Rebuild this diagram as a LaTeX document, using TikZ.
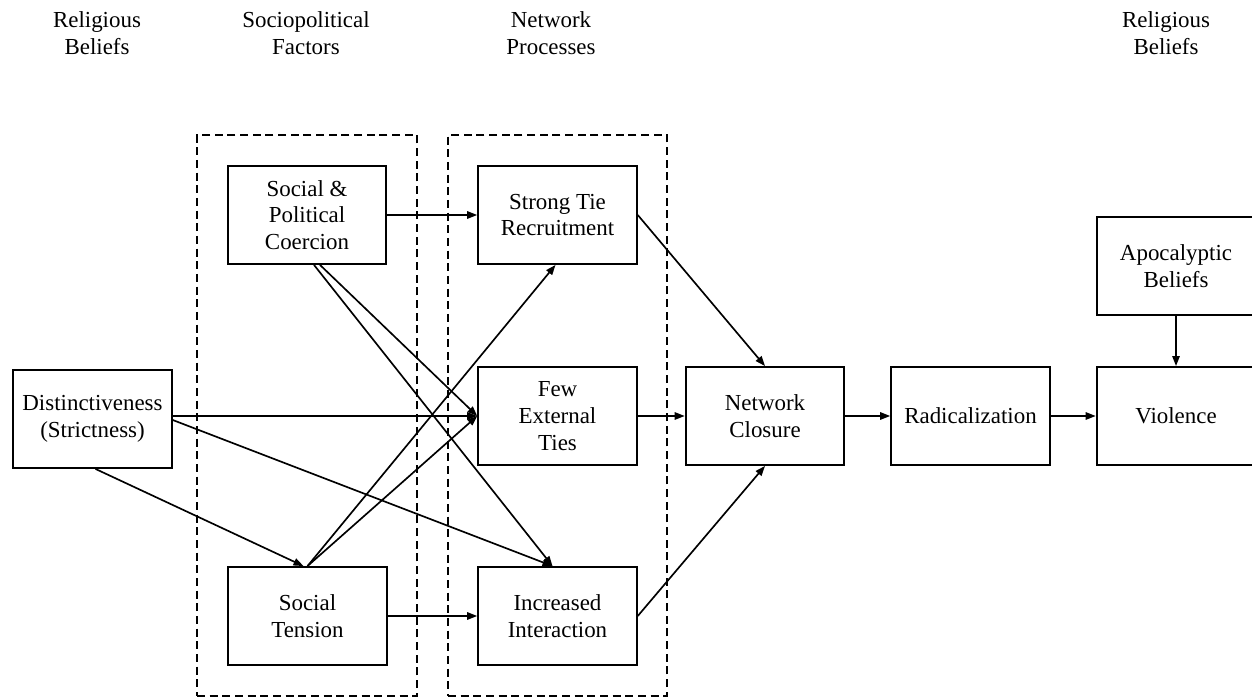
\documentclass[tikz,border=0pt]{standalone}
\usepackage{fontspec}
\setmainfont{Liberation Serif}
\usetikzlibrary{arrows.meta,calc}
\begin{document}
\begin{tikzpicture}[x=0.75pt,y=-0.75pt,
  box/.style={draw, line width=1.4pt, minimum width=119pt, minimum height=73.5pt, align=center, inner sep=0pt, font=\fontsize{17.2}{20}\selectfont},
  hdr/.style={align=center, font=\fontsize{17.2}{20}\selectfont},
  arr/.style={line width=1.25pt, -{Triangle[length=7.5pt,width=5.5pt]}},
  grp/.style={draw, line width=1.3pt, dash pattern=on 6pt off 3.5pt, minimum height=420.75pt, inner sep=0pt},
]
\useasboundingbox (0,0) rectangle (1252,698);
\clip (0,0) rectangle (1252,698);

% headers
\node[hdr] (h1) at (97,33) {Religious\\Beliefs};
\node[hdr] (h2) at (306,33) {Sociopolitical\\Factors};
\node[hdr] (h3) at (551,33) {Network\\Processes};
\node[hdr] (h4) at (1166,33) {Religious\\Beliefs};

% group frames
\node[grp, minimum width=165pt] (g1) at (307,415.5) {};
\node[grp, minimum width=164.25pt] (g2) at (557.5,415.5) {};

% boxes
\node[box] (dist) at (92.5,419) {Distinctiveness\\(Strictness)};
\node[box] (coer) at (307,215) {Social \&\\Political\\Coercion};
\node[box] (tens) at (307.5,616) {Social\\Tension};
\node[box] (st) at (557.5,215) {Strong Tie\\Recruitment};
\node[box] (fet) at (557.5,416) {Few\\External\\Ties};
\node[box] (ii) at (557.5,616) {Increased\\Interaction};
\node[box] (nc) at (765,416) {Network\\Closure};
\node[box] (rad) at (970.5,416) {Radicalization};
\node[box] (vio) at (1176,416) {Violence};
\node[box] (apo) at (1176,266) {Apocalyptic\\Beliefs};

% connectors
\draw[arr] (coer.east) -- (st.west);
\draw[arr] ($(coer.south)+(13,0)$) -- (fet.west);
\draw[arr] ($(coer.south)+(7,0)$) -- ($(ii.north)+(-5,0)$);
\draw[arr] (dist.east |- fet.west) -- (fet.west);
\draw[arr] ($(dist.east)+(0,1)$) -- ($(ii.north)+(-5,0)$);
\draw[arr] ($(dist.south)+(3,0)$) -- ($(tens.north)+(-4,0)$);
\draw[arr] (tens.north) -- ($(st.south)+(-2,0)$);
\draw[arr] (tens.north) -- (fet.west);
\draw[arr] (tens.east) -- (ii.west);
\draw[arr] (st.east) -- (nc.north);
\draw[arr] (fet.east) -- (nc.west);
\draw[arr] (ii.east) -- (nc.south);
\draw[arr] (nc.east) -- (rad.west);
\draw[arr] (rad.east) -- (vio.west);
\draw[arr] (apo.south) -- (vio.north);
\end{tikzpicture}
\end{document}
